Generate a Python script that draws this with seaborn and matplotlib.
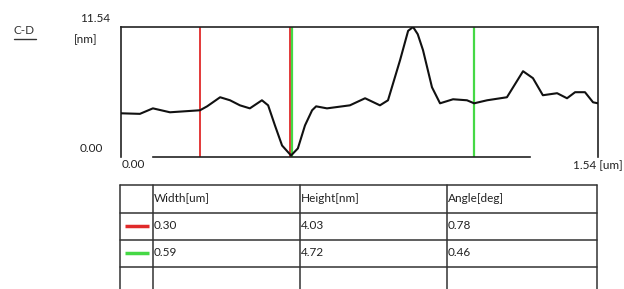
import seaborn as sns
import matplotlib.pyplot as plt
import pandas as pd

# profile (um, nm)
pos_um = [0.000, 0.061, 0.103, 0.158, 0.255, 0.278, 0.320, 0.352, 0.384, 0.416,
          0.455, 0.475, 0.497, 0.520, 0.549, 0.571, 0.594, 0.617, 0.630, 0.665,
          0.739, 0.788, 0.836, 0.862, 0.901, 0.927, 0.943, 0.958, 0.975, 1.004,
          1.030, 1.072, 1.117, 1.140, 1.182, 1.246, 1.298, 1.330, 1.362, 1.408,
          1.440, 1.466, 1.498, 1.524, 1.540]
height_nm = [3.85, 3.80, 4.29, 3.94, 4.12, 4.47, 5.28, 5.01, 4.56, 4.29,
             5.01, 4.56, 2.77, 0.98, 0.09, 0.72, 2.77, 4.12, 4.47, 4.29,
             4.56, 5.19, 4.56, 5.01, 8.59, 11.20, 11.54, 10.90, 9.48, 6.17,
             4.74, 5.10, 5.01, 4.74, 5.01, 5.28, 7.60, 6.98, 5.46, 5.64,
             5.19, 5.73, 5.73, 4.83, 4.74]
red_cursors = [0.255, 0.546]
green_cursors = [0.552, 1.140]

col_names = ['Width[um]', 'Height[nm]', 'Angle[deg]']
red_row = ['0.30', '4.03', '0.78']
green_row = ['0.59', '4.72', '0.46']

x_max = 1.54
y_max = 11.54

sns.set_style("white")
plt.rcParams['font.family'] = ['Lato', 'DejaVu Sans']

W, H = 624, 289
fig = plt.figure(figsize=(W / 100, H / 100), dpi=100)

def fx(px):
    return px / W

def fy(py):
    return 1 - py / H

ax = fig.add_axes([fx(121), fy(156.5), fx(598) - fx(121), fy(27) - fy(156.5)])
df = pd.DataFrame({'x': pos_um, 'h': height_nm})
for xc in red_cursors:
    ax.axvline(xc, color='#e02a2a', lw=1.3, zorder=1)
for xc in green_cursors:
    ax.axvline(xc, color='#45d845', lw=1.6, zorder=1)
sns.lineplot(data=df, x='x', y='h', ax=ax, color='#111111', lw=1.5, zorder=3)
ax.set_xlim(0, x_max)
ax.set_ylim(0, y_max)
ax.set_xticks([])
ax.set_yticks([])
ax.set_xlabel('')
ax.set_ylabel('')
for s in ax.spines.values():
    s.set_color('#222222')
    s.set_linewidth(1.2)
ax.spines['bottom'].set_bounds(0.103, 1.32)

fs = 8.5
fig.text(fx(14), fy(30), 'C-D', fontsize=fs, color='#333333', va='center')
fig.add_artist(plt.Line2D([fx(14), fx(36)], [fy(39), fy(39)], color='#333333', lw=1.0))
fig.text(fx(80), fy(18), f'{y_max:.2f}', fontsize=fs, color='#222222', va='center')
fig.text(fx(74), fy(40), '[nm]', fontsize=fs, color='#222222', va='center')
fig.text(fx(80), fy(148), '0.00', fontsize=fs, color='#222222', va='center')
fig.text(fx(122), fy(165), '0.00', fontsize=fs, color='#222222', va='center')
fig.text(fx(573), fy(166), f'{x_max:.2f} [um]', fontsize=fs, color='#222222', va='center')

# table below the profile
tab = fig.add_axes([fx(120), fy(294), fx(597) - fx(120), fy(185) - fy(294)])
tab.set_xlim(120, 597)
tab.set_ylim(294, 185)
tab.axis('off')
col_edges = [120, 153, 300, 447, 597]
row_edges = [185, 213, 240, 267, 294]
for r in row_edges:
    tab.plot([col_edges[0], col_edges[-1]], [r, r], color='#333333', lw=1.1, clip_on=False)
for c in col_edges:
    tab.plot([c, c], [row_edges[0], row_edges[-1]], color='#333333', lw=1.1, clip_on=False)
rows = [col_names, red_row, green_row]
for i, row in enumerate(rows):
    yc = (row_edges[i] + row_edges[i + 1]) / 2 - 1
    for j, val in enumerate(row):
        tab.text(col_edges[j + 1] + 1, yc, val, fontsize=fs, color='#222222', va='center')
tab.plot([125, 149], [226, 226], color='#e02a2a', lw=2.5, solid_capstyle='butt')
tab.plot([125, 149], [253, 253], color='#45d845', lw=2.5, solid_capstyle='butt')

fig.savefig('out.png', dpi=100)
